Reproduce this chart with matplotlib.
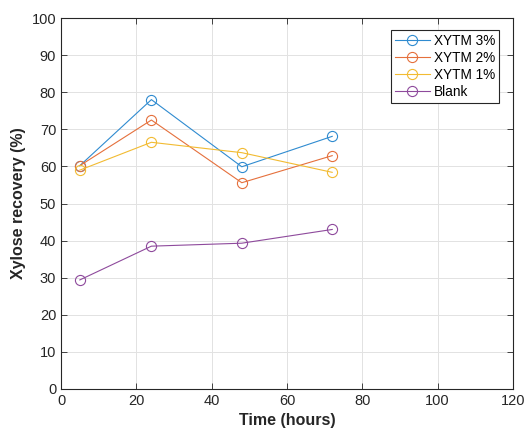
import matplotlib
matplotlib.use("Agg")
import matplotlib.pyplot as plt

time_h = [5, 24, 48, 72]
xytm3 = [60.2, 78.0, 59.9, 68.1]
xytm2 = [60.2, 72.5, 55.6, 62.9]
xytm1 = [59.0, 66.5, 63.7, 58.4]
blank = [29.4, 38.5, 39.3, 43.0]
labels = ["XYTM 3%", "XYTM 2%", "XYTM 1%", "Blank"]
colors = ["#2f8bd0", "#e5703c", "#f2bb32", "#8e4a9c"]
xticks = [0, 20, 40, 60, 80, 100, 120]
yticks = list(range(0, 101, 10))

plt.rcParams['font.family'] = ['Liberation Sans', 'DejaVu Sans']
fig = plt.figure(figsize=(5.25, 4.33), dpi=100)
ax = fig.add_axes([61/525, 1-389/433, (513-61)/525, (389-18)/433])

for ys, lab, c in zip([xytm3, xytm2, xytm1, blank], labels, colors):
    ax.plot(time_h, ys, color=c, lw=0.8, marker='o', markersize=7.3,
            markerfacecolor='none', markeredgecolor=c, markeredgewidth=0.8, label=lab)

ax.set_xlim(0, 120)
ax.set_ylim(0, 100)
ax.set_xticks(xticks)
ax.set_yticks(yticks)
ax.grid(True, color='#e2e2e2', lw=0.7)
ax.set_axisbelow(True)
for s in ax.spines.values():
    s.set_color('#262626')
    s.set_linewidth(0.8)
ax.tick_params(direction='in', length=4, width=0.6, colors='#262626', labelsize=10.5,
               top=True, right=True)
ax.set_xlabel('Time (hours)', fontsize=11.5, fontweight='bold', color='#262626')
ax.set_ylabel('Xylose recovery (%)', fontsize=11.5, fontweight='bold', color='#262626')
leg = ax.legend(loc='upper right', bbox_to_anchor=(0.969, 0.968), fontsize=9.8,
                fancybox=False, framealpha=1, edgecolor='#262626', borderaxespad=0,
                handlelength=2.6, borderpad=0.3, labelspacing=0.22, handletextpad=0.25)
leg.get_frame().set_linewidth(0.8)
fig.savefig('out.png', dpi=100)
